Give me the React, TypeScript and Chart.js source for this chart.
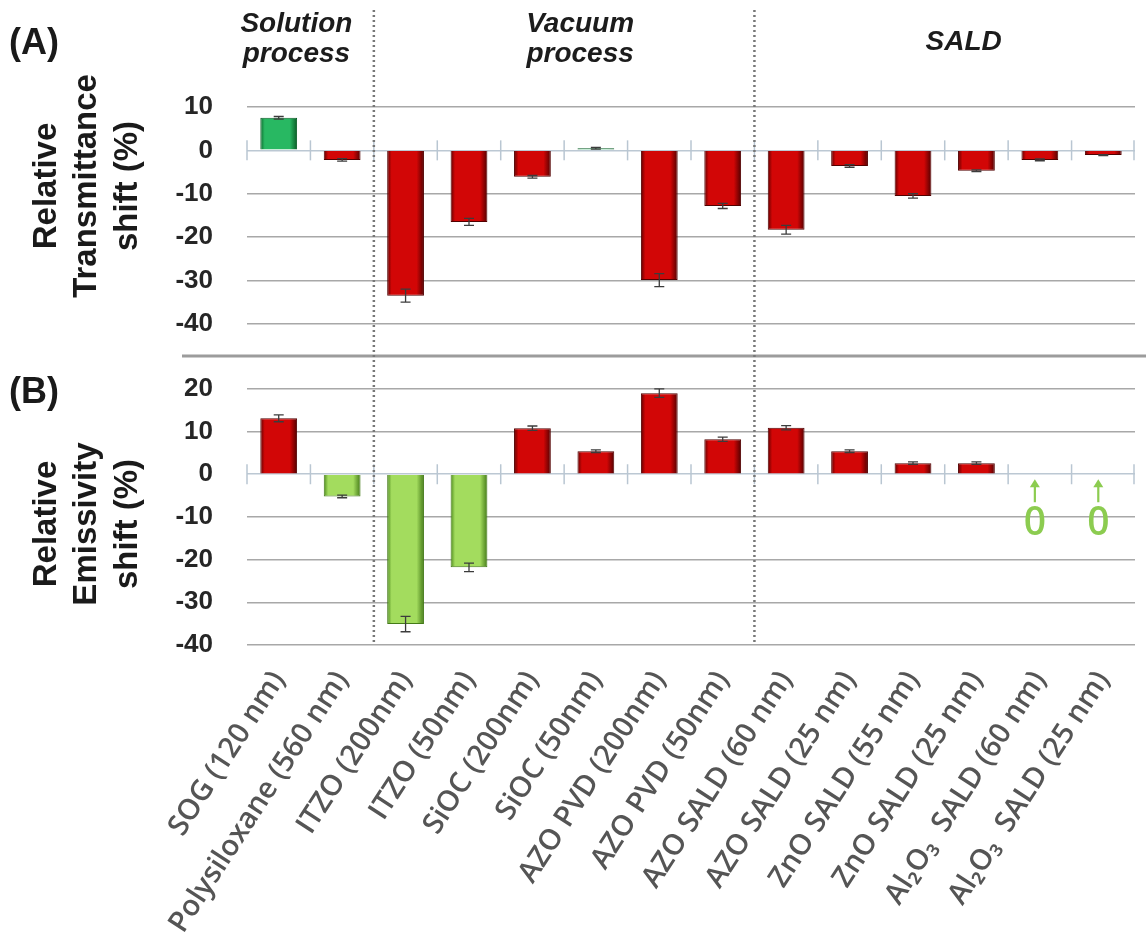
import React, { useEffect, useRef } from 'react';
import { Chart, registerables } from 'chart.js';

Chart.register(...registerables);

// ---------- data ----------
const categories = [
  'SOG (120 nm)',
  'Polysiloxane (560 nm)',
  'ITZO (200nm)',
  'ITZO (50nm)',
  'SiOC (200nm)',
  'SiOC (50nm)',
  'AZO PVD (200nm)',
  'AZO PVD (50nm)',
  'AZO SALD (60 nm)',
  'AZO SALD (25 nm)',
  'ZnO SALD (55 nm)',
  'ZnO SALD (25 nm)',
  'Al₂O₃  SALD (60 nm)',
  'Al₂O₃  SALD (25 nm)',
];
const transmittanceShift = [7.5, -2.2, -33.5, -16.5, -6.1, 0.5, -29.9, -12.8, -18.3, -3.6, -10.5, -4.7, -2.2, -1.1];
const transmittanceErr = [0.3, 0.3, 1.5, 0.8, 0.3, 0.2, 1.5, 0.6, 1.0, 0.3, 0.5, 0.2, 0.2, 0.1];
const emissivityShift = [13.1, -5.2, -35.1, -21.8, 10.8, 5.4, 19.0, 8.2, 10.9, 5.4, 2.6, 2.6, 0, 0];
const emissivityErr = [0.8, 0.3, 1.8, 1.0, 0.5, 0.3, 1.0, 0.5, 0.5, 0.3, 0.3, 0.3, 0, 0];
const ticksA = [10, 0, -10, -20, -30, -40];
const ticksB = [20, 10, 0, -10, -20, -30, -40];
const groupNames = [['Solution', 'process'], ['Vacuum', 'process'], ['SALD']];
const groupLastIndex = [1, 7, 13];
const titleA = ['Relative', 'Transmittance', 'shift (%)'];
const titleB = ['Relative', 'Emissivity', 'shift (%)'];

// ---------- styling ----------
const BAR_PCT = 0.58;
const SANS = "'Liberation Sans', Arial, sans-serif";

type Pal = [string, string, string];
const RED: Pal = ['#5e0000', '#d20606', '#520000'];
const DKGREEN: Pal = ['#0b6a2c', '#28b862', '#0a5c26'];
const LTGREEN: Pal = ['#4d8a1c', '#a3dc5e', '#447a18'];

function gradientFor(chart: any, index: number, pal: Pal) {
  const xs = chart.scales && chart.scales.x;
  if (!xs || !isFinite(xs.width)) return pal[1];
  const cw = xs.width / categories.length;
  const cx = xs.getPixelForValue(index);
  const w = cw * BAR_PCT;
  const g = chart.ctx.createLinearGradient(cx - w / 2, 0, cx + w / 2, 0);
  g.addColorStop(0, pal[0]);
  g.addColorStop(0.12, pal[1]);
  g.addColorStop(0.45, pal[1]);
  g.addColorStop(0.8, pal[1]);
  g.addColorStop(1, pal[2]);
  return g;
}

const palA = (v: number): Pal => (v > 0 ? DKGREEN : RED);
const palB = (v: number): Pal => (v < 0 ? LTGREEN : RED);

const overlay = {
  id: 'overlay',
  beforeDatasetsDraw(chart: any) {
    const { ctx, chartArea, scales } = chart;
    const x = scales.x;
    ctx.save();
    ctx.strokeStyle = '#b9c6d2';
    ctx.lineWidth = 1.5;
    for (const y of [scales.yA, scales.yB]) {
      const y0 = y.getPixelForValue(0);
      for (let i = 0; i <= categories.length; i++) {
        const px = Math.min(chartArea.right - 1, x.getPixelForValue(i - 0.5));
        ctx.beginPath();
        ctx.moveTo(px, y0 - 10);
        ctx.lineTo(px, y0 + 10);
        ctx.stroke();
      }
    }
    ctx.restore();
  },
  afterDatasetsDraw(chart: any) {
    const { ctx, scales } = chart;
    const x = scales.x;
    ctx.save();
    ctx.strokeStyle = '#3c3c3c';
    ctx.lineWidth = 1.3;
    const sets: [number[], number[], any][] = [
      [transmittanceShift, transmittanceErr, scales.yA],
      [emissivityShift, emissivityErr, scales.yB],
    ];
    for (const [vals, errs, y] of sets) {
      vals.forEach((v, i) => {
        const e = errs[i];
        if (!e) return;
        const px = x.getPixelForValue(i);
        const t = y.getPixelForValue(v + e);
        const b = y.getPixelForValue(v - e);
        ctx.beginPath();
        ctx.moveTo(px, t);
        ctx.lineTo(px, b);
        ctx.moveTo(px - 5, t);
        ctx.lineTo(px + 5, t);
        ctx.moveTo(px - 5, b);
        ctx.lineTo(px + 5, b);
        ctx.stroke();
      });
    }
    // zero markers for emissivity
    const yB = scales.yB;
    const y0 = yB.getPixelForValue(0);
    emissivityShift.forEach((v, i) => {
      if (v !== 0) return;
      const px = x.getPixelForValue(i) - 5;
      ctx.strokeStyle = '#8ccc50';
      ctx.fillStyle = '#8ccc50';
      ctx.lineWidth = 2.2;
      ctx.beginPath();
      ctx.moveTo(px, y0 + 28);
      ctx.lineTo(px, y0 + 12);
      ctx.stroke();
      ctx.beginPath();
      ctx.moveTo(px, y0 + 5);
      ctx.lineTo(px - 5, y0 + 13);
      ctx.lineTo(px + 5, y0 + 13);
      ctx.closePath();
      ctx.fill();
      ctx.font = "600 39px 'Open Sans', sans-serif";
      ctx.textAlign = 'center';
      ctx.textBaseline = 'middle';
      ctx.fillText('0', px, y0 + 50);
    });
    ctx.restore();
  },
  afterDraw(chart: any) {
    const { ctx, scales } = chart;
    const x = scales.x;
    const yA = scales.yA;
    const yB = scales.yB;
    ctx.save();
    // panel separator
    ctx.strokeStyle = '#9c9c9c';
    ctx.lineWidth = 3;
    ctx.beginPath();
    ctx.moveTo(182, yA.bottom);
    ctx.lineTo(1146, yA.bottom);
    ctx.stroke();
    // dotted group dividers
    ctx.strokeStyle = '#777';
    ctx.lineWidth = 2.5;
    ctx.setLineDash([2, 3]);
    for (let g = 0; g < groupLastIndex.length - 1; g++) {
      const px = x.getPixelForValue(groupLastIndex[g] + 0.5);
      ctx.beginPath();
      ctx.moveTo(px, 10);
      ctx.lineTo(px, yB.getPixelForValue(-40));
      ctx.stroke();
    }
    ctx.setLineDash([]);
    // group headers
    const headerShift = [-14, 16, 19];
    ctx.fillStyle = '#1c1c1c';
    ctx.font = `italic bold 28px ${SANS}`;
    ctx.textAlign = 'center';
    ctx.textBaseline = 'middle';
    let start = 0;
    groupNames.forEach((lines, g) => {
      const end = groupLastIndex[g];
      const cx = (x.getPixelForValue(start) + x.getPixelForValue(end)) / 2 + headerShift[g];
      if (lines.length === 1) {
        ctx.fillText(lines[0], cx, 42);
      } else {
        lines.forEach((l, k) => ctx.fillText(l, cx, 24 + k * 30));
      }
      start = end + 1;
    });
    // panel letters
    ctx.font = `bold 36px ${SANS}`;
    ctx.textAlign = 'left';
    ctx.fillStyle = '#1a1a1a';
    ctx.fillText('(A)', 9, 44);
    ctx.fillText('(B)', 9, 393);
    // y titles
    ctx.font = `bold 33px ${SANS}`;
    ctx.textAlign = 'center';
    const xs = [47, 87, 128];
    const drawTitle = (lines: string[], yc: number) => {
      lines.forEach((l, k) => {
        ctx.save();
        ctx.translate(xs[k], yc);
        ctx.rotate(-Math.PI / 2);
        ctx.fillText(l, 0, 0);
        ctx.restore();
      });
    };
    drawTitle(titleA, 186);
    drawTitle(titleB, 524);
    ctx.restore();
  },
};

const yTickFont = { family: SANS, weight: 'bold' as const, size: 26 };
const gridColor = (ctx: any) => (ctx.tick && ctx.tick.value === 0 ? '#bcc8d3' : '#a8a8a8');

export default function App() {
  const ref = useRef<HTMLCanvasElement>(null);
  useEffect(() => {
    document.body.style.margin = '0';
    const chart = new Chart(ref.current as HTMLCanvasElement, {
      type: 'bar',
      data: {
        labels: categories,
        datasets: [
          {
            label: 'Relative Transmittance shift (%)',
            data: transmittanceShift,
            yAxisID: 'yA',
            grouped: false,
            barPercentage: BAR_PCT,
            categoryPercentage: 1,
            backgroundColor: (c: any) => gradientFor(c.chart, c.dataIndex, palA(transmittanceShift[c.dataIndex] ?? -1)),
            borderColor: (c: any) => palA(transmittanceShift[c.dataIndex] ?? -1)[2],
            borderWidth: 1,
          },
          {
            label: 'Relative Emissivity shift (%)',
            data: emissivityShift,
            yAxisID: 'yB',
            grouped: false,
            barPercentage: BAR_PCT,
            categoryPercentage: 1,
            backgroundColor: (c: any) => gradientFor(c.chart, c.dataIndex, palB(emissivityShift[c.dataIndex] ?? 1)),
            borderColor: (c: any) => palB(emissivityShift[c.dataIndex] ?? 1)[2],
            borderWidth: (c: any) => (emissivityShift[c.dataIndex] === 0 ? 0 : 1),
          },
        ],
      },
      options: {
        responsive: false,
        animation: false,
        devicePixelRatio: 1,
        layout: { padding: { left: 160, top: 87, right: 11, bottom: 0 } },
        plugins: { legend: { display: false }, tooltip: { enabled: false } },
        scales: {
          x: {
            type: 'category',
            grid: { display: false, drawTicks: false },
            border: { display: false },
            ticks: {
              autoSkip: false,
              minRotation: 57,
              maxRotation: 57,
              padding: 20,
              color: '#555555',
              font: { family: "'Open Sans', sans-serif", size: 29, weight: '600' },
            },
            afterFit: (s: any) => {
              s.height = 298;
              s.paddingLeft = 0;
              s.paddingRight = 0;
            },
          },
          yA: {
            type: 'linear',
            position: 'left',
            stack: 'panels',
            stackWeight: 269,
            weight: 1,
            min: -47.4,
            max: 14.6,
            afterBuildTicks: (ax: any) => {
              ax.ticks = ticksA.map((v) => ({ value: v }));
            },
            grid: { color: gridColor, lineWidth: 1.5, drawTicks: false },
            border: { display: false },
            ticks: { padding: 34, color: '#262626', font: yTickFont },
            afterFit: (s: any) => {
              s.width = 87;
            },
          },
          yB: {
            type: 'linear',
            position: 'left',
            stack: 'panels',
            stackWeight: 289,
            weight: 0,
            min: -40,
            max: 27.7,
            afterBuildTicks: (ax: any) => {
              ax.ticks = ticksB.map((v) => ({ value: v }));
            },
            grid: { color: gridColor, lineWidth: 1.5, drawTicks: false },
            border: { display: false },
            ticks: { padding: 34, color: '#262626', font: yTickFont },
            afterFit: (s: any) => {
              s.width = 87;
            },
          },
        },
      } as any,
      plugins: [overlay],
    });
    return () => chart.destroy();
  }, []);
  return (
    <div style={{ width: 1146, height: 943, background: '#fff' }}>
      <canvas ref={ref} width={1146} height={943} style={{ display: 'block', width: 1146, height: 943 }} />
    </div>
  );
}
